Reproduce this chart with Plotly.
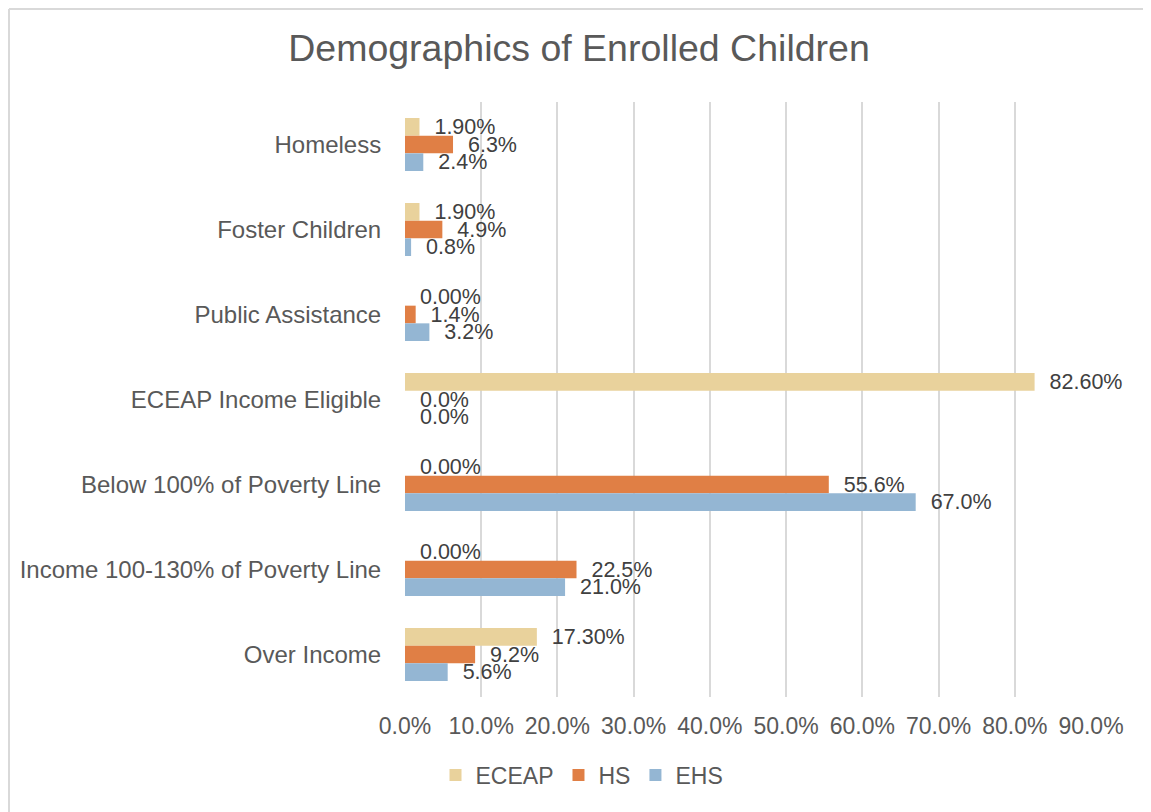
import plotly.graph_objects as go

categories = [
    "Homeless",
    "Foster Children",
    "Public Assistance",
    "ECEAP Income Eligible",
    "Below 100% of Poverty Line",
    "Income 100-130% of Poverty Line",
    "Over Income",
]
eceap = [1.9, 1.9, 0.0, 82.6, 0.0, 0.0, 17.3]
hs = [6.3, 4.9, 1.4, 0.0, 55.6, 22.5, 9.2]
ehs = [2.4, 0.8, 3.2, 0.0, 67.0, 21.0, 5.6]
x_ticks = [0, 10, 20, 30, 40, 50, 60, 70, 80, 90]
x_tick_labels = [f"{v:.1f}%" for v in x_ticks]

FONT = "Liberation Sans, Arial, sans-serif"
NB = "\u00a0\u00a0"

# page body has an 8px default margin; compensate
OFF = 8
W, H = 1151 - OFF, 812 - OFF
ML, MT, MR, MB = 405 - OFF, 102 - OFF, 60, 115
PW, PH = W - ML - MR, H - MT - MB

series = [
    ("ECEAP", eceap, "#E9D29C", ".2f"),
    ("HS", hs, "#E07F45", ".1f"),
    ("EHS", ehs, "#94B6D3", ".1f"),
]

fig = go.Figure()
for name, vals, color, fmt in series:
    fig.add_trace(go.Bar(
        name=name,
        y=categories,
        x=vals,
        orientation="h",
        marker=dict(color=color, line=dict(width=0)),
        texttemplate=NB + "%{x:" + fmt + "}%",
        textposition="outside",
        constraintext="none",
        cliponaxis=False,
        textfont=dict(family=FONT, size=21.5, color="#404040"),
    ))

fig.update_layout(
    width=W,
    height=H,
    margin=dict(l=ML, r=MR, t=MT, b=MB),
    paper_bgcolor="white",
    plot_bgcolor="white",
    barmode="group",
    bargap=0.376,
    bargroupgap=0,
    font=dict(family=FONT, color="#595959"),
    title=dict(
        text="Demographics of Enrolled Children",
        x=(579 - OFF) / W, xref="container", xanchor="center",
        y=1 - (48 - OFF) / H, yref="container", yanchor="middle",
        font=dict(family=FONT, size=37.5, color="#595959"),
    ),
    showlegend=True,
    legend=dict(
        orientation="h",
        x=(582 - OFF) / W, xref="container", xanchor="center",
        y=1 - (775 - OFF) / H, yref="container", yanchor="middle",
        font=dict(family=FONT, size=23, color="#595959"),
        traceorder="normal",
        itemwidth=30,
    ),
)

fig.update_xaxes(
    range=[0, 90],
    tickmode="array",
    tickvals=x_ticks,
    ticktext=x_tick_labels,
    showgrid=True,
    gridcolor="#D9D9D9",
    gridwidth=1.5,
    zeroline=False,
    showline=False,
    ticks="outside",
    ticklen=8,
    tickcolor="rgba(0,0,0,0)",
    tickfont=dict(family=FONT, size=23, color="#595959"),
    fixedrange=True,
)
fig.update_yaxes(
    categoryorder="array",
    categoryarray=categories,
    autorange="reversed",
    showgrid=False,
    zeroline=False,
    showline=False,
    ticks="outside",
    ticklen=18,
    tickcolor="rgba(0,0,0,0)",
    tickfont=dict(family=FONT, size=24, color="#595959"),
    fixedrange=True,
)

# Chart border (outer frame): only left and top edges are visible
def px_x(p):
    return (p - ML) / PW

def px_y(p):
    return (MT + PH - p) / PH

border = dict(color="#D9D9D9", width=2)
fig.add_shape(type="line", xref="paper", yref="paper",
              x0=px_x(1), x1=px_x(W + 20), y0=px_y(1), y1=px_y(1),
              line=border, layer="below")
fig.add_shape(type="line", xref="paper", yref="paper",
              x0=px_x(1), x1=px_x(1), y0=px_y(1), y1=px_y(H + 20),
              line=border, layer="below")

fig.write_html("out.html")
